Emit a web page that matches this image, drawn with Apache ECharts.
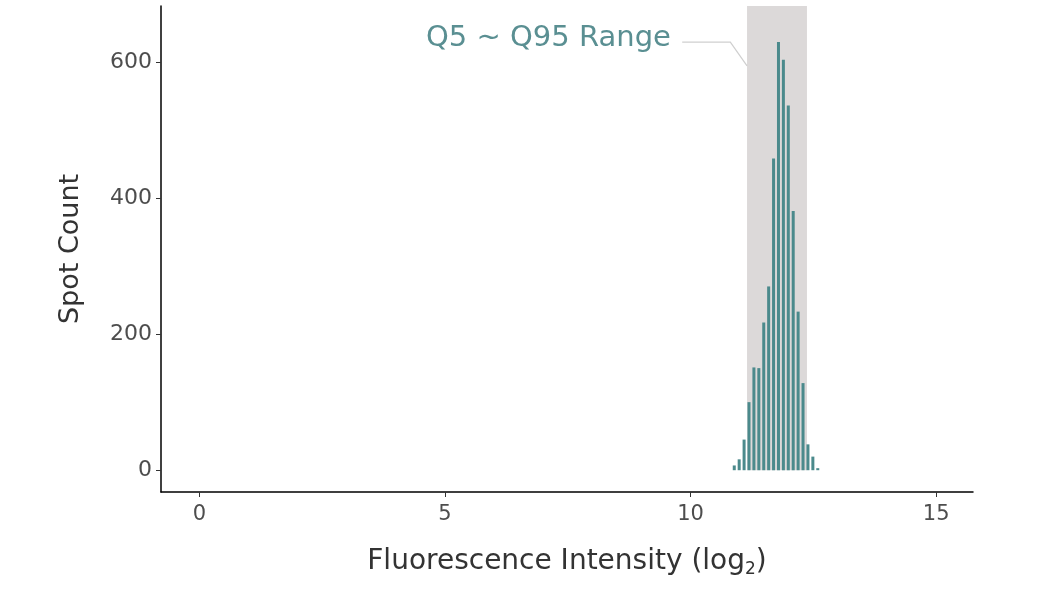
<!DOCTYPE html>
<html>
<head>
<meta charset="utf-8">
<script src="https://cdn.jsdelivr.net/npm/echarts@6/dist/echarts.min.js"></script>
<style>html,body{margin:0;padding:0;background:#fff}#c{width:1044px;height:590px}</style>
</head>
<body>
<div id="c"></div>
<script>
// Bin centers (log2 fluorescence intensity) and spot counts
const binCenters = [10.89, 10.99, 11.09, 11.19, 11.29, 11.39, 11.49, 11.59, 11.69, 11.79, 11.89, 11.99, 12.09, 12.19, 12.29, 12.39, 12.49, 12.59];
const spotCounts = [7, 16, 45, 100, 151, 150, 217, 270, 458, 629, 603, 536, 381, 233, 128, 38, 20, 3];
const xTicks = [0, 5, 10, 15];
const yTicks = [0, 200, 400, 600];
const q5 = 11.15, q95 = 12.37;
const rangeLabel = 'Q5 ~ Q95 Range';

const FONT = '"DejaVu Sans"';
const Y_MIN = -32, Y_MAX = 682;
const chart = echarts.init(document.getElementById('c'));
const data = binCenters.map((x, i) => [x, spotCounts[i]]);
chart.setOption({
  animation: false,
  backgroundColor: '#fff',
  grid: { left: 161, right: 71, top: 6, bottom: 98 },
  xAxis: {
    type: 'value', min: -0.78, max: 15.75,
    name: 'Fluorescence Intensity (log{sub|2})',
    nameLocation: 'middle', nameGap: 54,
    nameTextStyle: { fontFamily: FONT, fontSize: 28, color: '#333',
      rich: { sub: { fontFamily: FONT, fontSize: 17, color: '#333', padding: [15, 0, 0, 0] } } },
    splitLine: { show: false },
    axisLine: { onZero: false, lineStyle: { color: '#000', width: 1.5 } },
    axisTick: { show: true, length: 5, lineStyle: { color: '#333' }, customValues: xTicks },
    axisLabel: { fontFamily: FONT, fontSize: 21, color: '#4d4d4d', margin: 12, customValues: xTicks }
  },
  yAxis: {
    type: 'value', min: Y_MIN, max: Y_MAX,
    name: 'Spot Count', nameLocation: 'middle', nameGap: 77, nameRotate: 90,
    nameTextStyle: { fontFamily: FONT, fontSize: 27, color: '#333' },
    splitLine: { show: false },
    axisLine: { show: true, onZero: false, lineStyle: { color: '#000', width: 1.5 } },
    axisTick: { show: true, length: 5, lineStyle: { color: '#333' }, customValues: yTicks },
    axisLabel: { fontFamily: FONT, fontSize: 22, color: '#4d4d4d', margin: 9, customValues: yTicks }
  },
  series: [{
    type: 'bar', data: data, barWidth: 3,
    itemStyle: { color: '#4b8a8c' },
    markArea: {
      silent: true,
      itemStyle: { color: '#dcd9d9' },
      data: [[{ xAxis: q5, yAxis: 0 }, { xAxis: q95, yAxis: Y_MAX }]]
    },
    z: 3
  }]
});

// annotation label placed via the axes
const p = (x, y) => chart.convertToPixel({ gridIndex: 0 }, [x, y]);
const a = p(9.83, 629), b = p(10.81, 629), c = p(q5, 594), t = p(9.6, 634);
chart.setOption({
  graphic: [
    { type: 'polyline', shape: { points: [a, b, c] }, style: { stroke: '#cfcfcf', lineWidth: 1.2, fill: null }, z: 10 },
    { type: 'text', x: t[0], y: t[1], style: { text: rangeLabel, fill: '#5a8f92', font: '29px ' + FONT, textAlign: 'right', textVerticalAlign: 'middle' }, z: 10 }
  ]
});
</script>
</body>
</html>
